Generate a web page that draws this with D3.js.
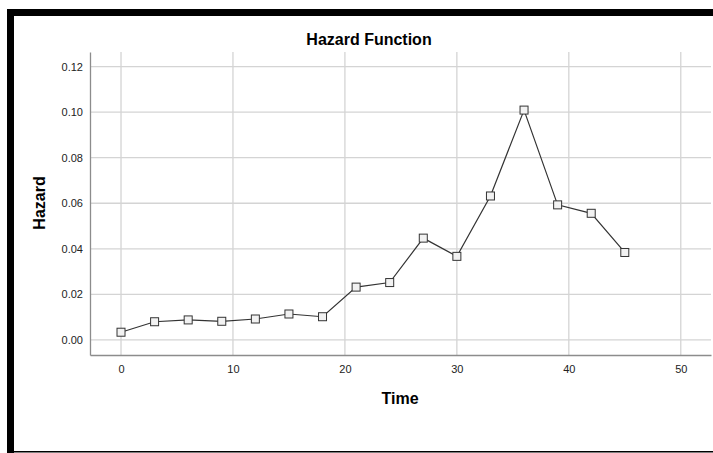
<!DOCTYPE html>
<html>
<head>
<meta charset="utf-8">
<script src="https://cdn.jsdelivr.net/npm/d3@7"></script>
<style>
  body { margin: 0; background: #fff; }
  svg { display: block; font-family: Arial, "Liberation Sans", sans-serif; }
</style>
</head>
<body>
<svg id="canvas" width="713" height="453"></svg>
<script>
// hazard estimates
var times = [0, 3, 6, 9, 12, 15, 18, 21, 24, 27, 30, 33, 36, 39, 42, 45];
var hazard = [0.0034, 0.0080, 0.0088, 0.0082, 0.0092, 0.0114, 0.0102, 0.0232,
              0.0252, 0.0447, 0.0367, 0.0632, 0.1009, 0.0593, 0.0556, 0.0384];
var xTicks = [0, 10, 20, 30, 40, 50];
var yTicks = [0, 0.02, 0.04, 0.06, 0.08, 0.10, 0.12];

var svg = d3.select("#canvas");

// frame (black edges round the picture)
svg.append("rect").attr("x", 7).attr("y", 9).attr("width", 706).attr("height", 7).attr("fill", "#000");
svg.append("rect").attr("x", 7).attr("y", 9).attr("width", 7).attr("height", 444).attr("fill", "#000");
svg.append("rect").attr("x", 7).attr("y", 451).attr("width", 706).attr("height", 1.5).attr("fill", "#000");

// plot box (window.top is reserved, so no "top" here)
var plotL = 90, plotR = 711, plotT = 52, plotB = 355;

var x = d3.scaleLinear().domain([-2.77, 52.7]).range([plotL, plotR]);
var y = d3.scaleLinear().domain([-0.0066, 0.1264]).range([plotB, plotT]);

// grid
svg.append("g").selectAll("line").data(xTicks).enter().append("line")
	.attr("x1", function(d) { return x(d); })
	.attr("x2", function(d) { return x(d); })
	.attr("y1", plotT).attr("y2", plotB)
	.attr("stroke", "#d4d4d4").attr("stroke-width", 1.3);
svg.append("g").selectAll("line").data(yTicks).enter().append("line")
	.attr("x1", plotL).attr("x2", plotR)
	.attr("y1", function(d) { return y(d); })
	.attr("y2", function(d) { return y(d); })
	.attr("stroke", "#d4d4d4").attr("stroke-width", 1.3);

// axes
var xAxis = svg.append("g").attr("transform", "translate(0," + plotB + ")")
	.call(d3.axisBottom(x).tickValues(xTicks).tickSize(0).tickPadding(8).tickFormat(d3.format("d")));
var yAxis = svg.append("g").attr("transform", "translate(" + plotL + ",0)")
	.call(d3.axisLeft(y).tickValues(yTicks).tickSize(0).tickPadding(7).tickFormat(d3.format(".2f")));
[xAxis, yAxis].forEach(function(a) {
	a.select(".domain").attr("stroke", "#8c8c8c").attr("stroke-width", 1.3);
	a.selectAll("text").attr("font-size", 11).attr("fill", "#222")
		.attr("font-family", "Arial, 'Liberation Sans', sans-serif");
});
xAxis.selectAll("text").attr("dy", "0.9em");

// line + markers
var pts = times.map(function(t, i) { return [t, hazard[i]]; });
var line = d3.line()
	.x(function(d) { return x(d[0]); })
	.y(function(d) { return y(d[1]); });
svg.append("path").datum(pts).attr("d", line)
	.attr("fill", "none").attr("stroke", "#333").attr("stroke-width", 1.2);
svg.append("g").selectAll("rect").data(pts).enter().append("rect")
	.attr("x", function(d) { return x(d[0]) - 4; })
	.attr("y", function(d) { return y(d[1]) - 4; })
	.attr("width", 8).attr("height", 8)
	.attr("fill", "#f2f2f2").attr("stroke", "#333").attr("stroke-width", 1);

// titles
svg.append("text").attr("x", 369).attr("y", 45).attr("text-anchor", "middle")
	.attr("font-size", 16).attr("font-weight", "bold").attr("fill", "#000")
	.text("Hazard Function");
svg.append("text").attr("x", 400).attr("y", 404).attr("text-anchor", "middle")
	.attr("font-size", 16).attr("font-weight", "bold").attr("fill", "#000")
	.text("Time");
svg.append("text").attr("transform", "translate(45,203) rotate(-90)").attr("text-anchor", "middle")
	.attr("font-size", 16).attr("font-weight", "bold").attr("fill", "#000")
	.text("Hazard");
</script>
</body>
</html>
